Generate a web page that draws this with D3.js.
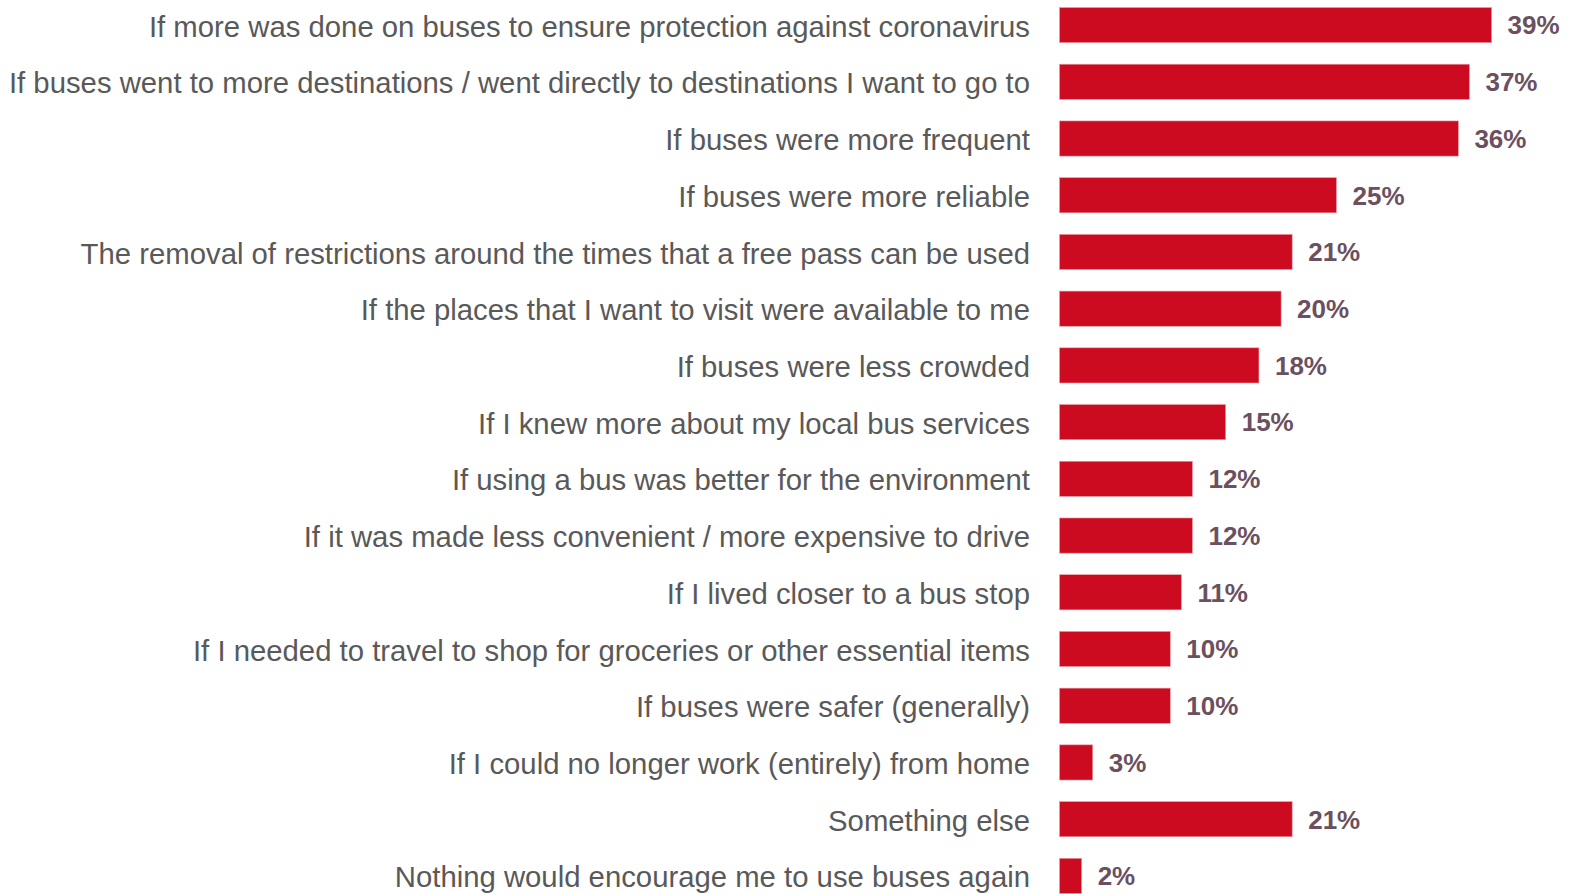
<!DOCTYPE html>
<html><head><meta charset="utf-8">
<script src="https://cdn.jsdelivr.net/npm/d3@7"></script>
<style>body{margin:0;background:#fff;}svg{display:block;}</style>
</head><body>
<svg id="chart" width="1573" height="894"></svg>
<script>
const categories = [
  "If more was done on buses to ensure protection against coronavirus",
  "If buses went to more destinations / went directly to destinations I want to go to",
  "If buses were more frequent",
  "If buses were more reliable",
  "The removal of restrictions around the times that a free pass can be used",
  "If the places that I want to visit were available to me",
  "If buses were less crowded",
  "If I knew more about my local bus services",
  "If using a bus was better for the environment",
  "If it was made less convenient / more expensive to drive",
  "If I lived closer to a bus stop",
  "If I needed to travel to shop for groceries or other essential items",
  "If buses were safer (generally)",
  "If I could no longer work (entirely) from home",
  "Something else",
  "Nothing would encourage me to use buses again"
];
const values = [39, 37, 36, 25, 21, 20, 18, 15, 12, 12, 11, 10, 10, 3, 21, 2];

const svg = d3.select("#chart");
const x0 = 1059.5;
const x = d3.scaleLinear().domain([0, 39]).range([x0, x0 + 39 * 11.08]);
const step = 56.72;
const y = d3.scaleBand().domain(categories)
  .range([7.5 - 0.19 * step, 7.5 - 0.19 * step + 16 * step])
  .paddingInner(0.38).paddingOuter(0.19);

svg.append("g").selectAll("rect").data(categories).join("rect")
  .attr("x", x(0))
  .attr("y", d => y(d))
  .attr("width", (d, i) => x(values[i]) - x(0))
  .attr("height", y.bandwidth())
  .attr("fill", "#cc0a20")
  .attr("stroke", "#e8a0a8")
  .attr("stroke-width", 0.6);

svg.append("g").selectAll("text").data(categories).join("text")
  .attr("x", 1030)
  .attr("y", d => y(d) + y.bandwidth() / 2 + 1)
  .attr("dy", "0.36em")
  .attr("text-anchor", "end")
  .attr("font-family", "Liberation Sans, Arial, sans-serif")
  .attr("font-size", 29.3)
  .attr("fill", "#595959")
  .text(d => d);

svg.append("g").selectAll("text").data(categories).join("text")
  .attr("x", (d, i) => x(values[i]) + 16)
  .attr("y", d => y(d) + y.bandwidth() / 2)
  .attr("dy", "0.36em")
  .attr("font-family", "Liberation Sans, Arial, sans-serif")
  .attr("font-weight", "bold")
  .attr("font-size", 26)
  .attr("fill", "#6b5060")
  .text((d, i) => values[i] + "%");
</script>
</body></html>
